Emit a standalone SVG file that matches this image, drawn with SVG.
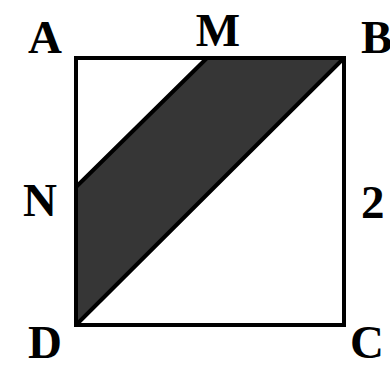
<svg xmlns="http://www.w3.org/2000/svg" width="390" height="371" viewBox="0 0 390 371">
<style>
.lbl{font-family:"Liberation Serif","Times New Roman",serif;font-weight:bold;font-size:47px;fill:#000}
.edge{fill:none;stroke:#000;stroke-width:4;stroke-linejoin:miter}
</style>
<rect width="390" height="371" fill="#fff"/>
<g id="shaded">
<polygon points="207,58 344,58 76,325 76,187" fill="#363636" stroke="#000" stroke-width="4" stroke-linejoin="round"/>
</g>
<g id="connectors">
<rect class="edge" x="76" y="58" width="268" height="267"/>
</g>
<g id="A"><text class="lbl" x="45" y="53" text-anchor="middle">A</text></g>
<g id="M"><text class="lbl" x="218" y="46" text-anchor="middle">M</text></g>
<g id="B"><text class="lbl" x="361" y="53">B</text></g>
<g id="N"><text class="lbl" x="40" y="216" text-anchor="middle">N</text></g>
<g id="two"><text class="lbl" x="361" y="218">2</text></g>
<g id="D"><text class="lbl" x="45" y="358" text-anchor="middle">D</text></g>
<g id="C"><text class="lbl" x="350" y="358">C</text></g>
</svg>
